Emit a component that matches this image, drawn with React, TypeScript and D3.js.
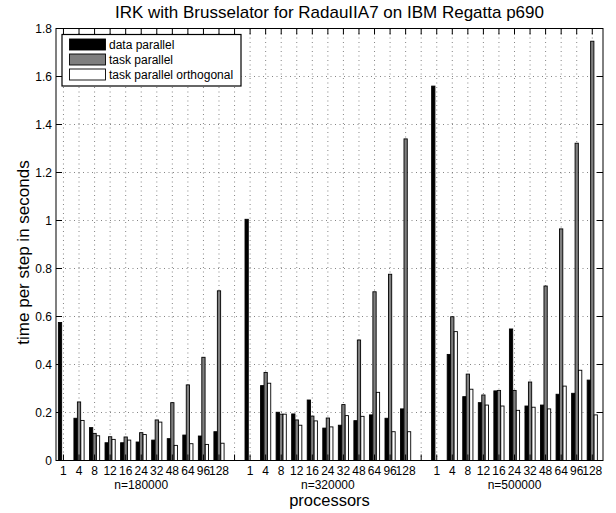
import React from "react";
import * as d3 from "d3";

// processor counts shown under each problem size
const procLabels = ["1", "4", "8", "12", "16", "24", "32", "48", "64", "96", "128"];
const sizeLabels = ["n=180000", "n=320000", "n=500000"];
const seriesNames = ["data parallel", "task parallel", "task parallel orthogonal"];

// time per step (s), 11 values per problem size, sizes in order
const dataParallel = [
  0.575, 0.176, 0.137, 0.074, 0.074, 0.077, 0.085, 0.091, 0.106, 0.102, 0.12,
  1.005, 0.312, 0.201, 0.194, 0.252, 0.135, 0.147, 0.166, 0.19, 0.176, 0.215,
  1.56, 0.442, 0.266, 0.241, 0.29, 0.548, 0.227, 0.231, 0.276, 0.28, 0.335,
];
const taskParallel = [
  0, 0.244, 0.113, 0.099, 0.098, 0.116, 0.169, 0.241, 0.315, 0.43, 0.707,
  0, 0.367, 0.193, 0.169, 0.185, 0.177, 0.233, 0.502, 0.703, 0.776, 1.34,
  0, 0.599, 0.36, 0.273, 0.292, 0.292, 0.327, 0.727, 0.965, 1.322, 1.747,
];
const taskParallelOrth = [
  0, 0.167, 0.103, 0.088, 0.085, 0.108, 0.16, 0.063, 0.07, 0.067, 0.072,
  0, 0.322, 0.193, 0.147, 0.165, 0.14, 0.187, 0.184, 0.284, 0.12, 0.12,
  0, 0.537, 0.297, 0.231, 0.227, 0.209, 0.222, 0.215, 0.31, 0.376, 0.19,
];
const yTicks = [0, 0.2, 0.4, 0.6, 0.8, 1, 1.2, 1.4, 1.6, 1.8];

const W = 616;
const H = 513;
const font = "'Liberation Sans', Arial, Helvetica, sans-serif";

const App = () => {
  const left = 56;
  const right = 603;
  const top = 28.5;
  const bottom = 460.5;

  const x = d3.scaleLinear().domain([0.52, 35.69]).range([left, right]);
  const y = d3.scaleLinear().domain([0, 1.8]).range([bottom, top]);

  const slot = procLabels.length + 1;
  const pos = (i) => Math.floor(i / procLabels.length) * slot + (i % procLabels.length) + 1;
  const positions = d3.range(1, slot * 3);

  const series = [
    { name: seriesNames[0], values: dataParallel, fill: "#000", off: -0.222 },
    { name: seriesNames[1], values: taskParallel, fill: "#7f7f7f", off: 0 },
    { name: seriesNames[2], values: taskParallelOrth, fill: "#fff", off: 0.222 },
  ];
  const bw = x(0.21) - x(0);
  const tick = 6;

  return (
    <svg
      width={W}
      height={H}
      style={{ position: "absolute", left: 0, top: 0, background: "#fff" }}
      fontFamily={font}
    >
      <rect x={0} y={0} width={W} height={H} fill="#fff" />
      <text x={(left + right) / 2} y={18} fontSize={17} textAnchor="middle">
        IRK with Brusselator for RadauIIA7 on IBM Regatta p690
      </text>

      {/* grid */}
      <g stroke="#666" strokeWidth={0.8} strokeDasharray="1 3.5">
        {positions.map((p) => (
          <line key={"gx" + p} x1={x(p)} x2={x(p)} y1={top} y2={bottom} />
        ))}
        {yTicks.slice(1, -1).map((v) => (
          <line key={"gy" + v} x1={left} x2={right} y1={y(v)} y2={y(v)} />
        ))}
      </g>

      {/* bars */}
      {series.map((s) => (
        <g key={s.name}>
          {s.values.map((v, i) =>
            v > 0 ? (
              <rect
                key={i}
                x={x(pos(i) + s.off) - bw / 2}
                y={y(v)}
                width={bw}
                height={y(0) - y(v)}
                fill={s.fill}
                stroke="#000"
                strokeWidth={0.9}
              />
            ) : null
          )}
        </g>
      ))}

      {/* axes frame and ticks */}
      <rect x={left} y={top} width={right - left} height={bottom - top} fill="none" stroke="#000" strokeWidth={1} />
      <g stroke="#000" strokeWidth={1}>
        {positions.map((p) => (
          <g key={"t" + p}>
            <line x1={x(p)} x2={x(p)} y1={top} y2={top + tick} />
            <line x1={x(p)} x2={x(p)} y1={bottom} y2={bottom - tick} />
          </g>
        ))}
        {yTicks.map((v) => (
          <g key={"ty" + v}>
            <line x1={left} x2={left + tick} y1={y(v)} y2={y(v)} />
            <line x1={right} x2={right - tick} y1={y(v)} y2={y(v)} />
          </g>
        ))}
      </g>

      {/* y tick labels */}
      {yTicks.map((v) => (
        <text key={"yl" + v} x={left - 4} y={y(v)} dy="0.35em" fontSize={12} textAnchor="end">
          {`${+v.toFixed(1)}`}
        </text>
      ))}

      {/* x tick labels */}
      {sizeLabels.map((lab, g) => (
        <g key={lab}>
          {procLabels.map((p, j) => (
            <text key={p} x={x(g * slot + j + 1)} y={474.5} fontSize={12} textAnchor="middle">
              {p}
            </text>
          ))}
          <text x={x(g * slot + 6)} y={488.5} fontSize={12} textAnchor="middle">
            {lab}
          </text>
        </g>
      ))}

      <text x={(left + right) / 2} y={506} fontSize={16.5} textAnchor="middle">
        processors
      </text>
      <text transform={`translate(29,${(top + bottom) / 2 + 8}) rotate(-90)`} fontSize={17} textAnchor="middle">
        time per step in seconds
      </text>

      {/* legend */}
      <g>
        <rect x={62} y={34.5} width={179} height={51.5} fill="#fff" stroke="#000" strokeWidth={1.2} />
        {series.map((s, i) => (
          <g key={"lg" + i} transform={`translate(0,${44.5 + i * 15})`}>
            <rect x={69.5} y={-5.5} width={36} height={11} fill={s.fill} stroke="#000" strokeWidth={0.9} />
            <text x={109} y={0} dy="0.35em" fontSize={12}>
              {s.name}
            </text>
          </g>
        ))}
      </g>
    </svg>
  );
};

export default App;
